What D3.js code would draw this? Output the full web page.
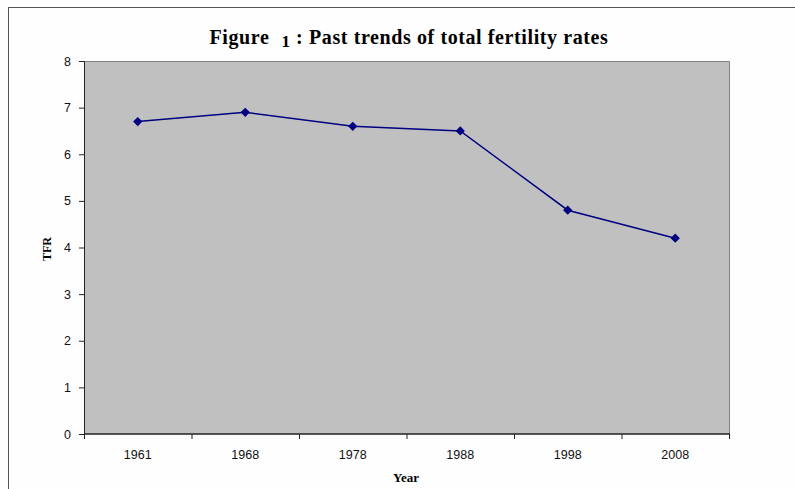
<!DOCTYPE html>
<html>
<head>
<meta charset="utf-8">
<script src="https://cdn.jsdelivr.net/npm/d3@7"></script>
<style>
  html, body { margin: 0; padding: 0; background: #fefefe; }
  svg { display: block; }
</style>
</head>
<body>
<svg id="chart" width="795" height="489"></svg>
<script>
// Total fertility rate by census / survey year
const years = ["1961", "1968", "1978", "1988", "1998", "2008"];
const tfr = [6.7, 6.9, 6.6, 6.5, 4.8, 4.2];
const yTicks = [0, 1, 2, 3, 4, 5, 6, 7, 8];

const svg = d3.select("#chart");
const plot = { left: 84, top: 61, right: 729, bottom: 434 };

// frame lines along top and left of the figure
svg.append("line").attr("x1", 8).attr("x2", 795).attr("y1", 7.5).attr("y2", 7.5)
  .attr("stroke", "#555").attr("stroke-width", 1);
svg.append("line").attr("x1", 8.5).attr("x2", 8.5).attr("y1", 7).attr("y2", 489)
  .attr("stroke", "#555").attr("stroke-width", 1);

const x = d3.scaleBand().domain(years).range([plot.left, plot.right]).padding(0);
const y = d3.scaleLinear().domain([0, 8]).range([plot.bottom, plot.top]);

// plot area
svg.append("rect")
  .attr("x", plot.left).attr("y", plot.top)
  .attr("width", plot.right - plot.left).attr("height", plot.bottom - plot.top)
  .attr("fill", "#c0c0c0");
svg.append("path")
  .attr("d", `M${plot.left},${plot.top + 0.5}H${plot.right + 0.5}V${plot.bottom}`)
  .attr("fill", "none").attr("stroke", "#808080").attr("stroke-width", 1);

// y axis
const yAxis = svg.append("g")
  .attr("transform", `translate(${plot.left},0)`)
  .call(d3.axisLeft(y).tickValues(yTicks).tickSize(5).tickPadding(8).tickFormat(d3.format("d")));
yAxis.select(".domain").attr("stroke", "#222");
yAxis.selectAll(".tick line").attr("stroke", "#222");
yAxis.selectAll("text").attr("font-family", "Arial, 'Liberation Sans', sans-serif")
  .attr("font-size", 12.5).attr("fill", "#111");

// x axis: ticks sit on category boundaries, labels at band centres
const xAxis = svg.append("g").attr("transform", `translate(0,${plot.bottom})`);
xAxis.append("line").attr("x1", plot.left).attr("x2", plot.right + 1)
  .attr("stroke", "#222").attr("stroke-width", 1.5);
const bounds = years.map(d => x(d)).concat([plot.right]);
xAxis.selectAll("line.tk").data(bounds).join("line").attr("class", "tk")
  .attr("x1", d => d + 0.5).attr("x2", d => d + 0.5).attr("y1", 0).attr("y2", 5)
  .attr("stroke", "#222");
xAxis.selectAll("text").data(years).join("text")
  .attr("x", d => x(d) + x.bandwidth() / 2).attr("y", 25)
  .attr("text-anchor", "middle")
  .attr("font-family", "Arial, 'Liberation Sans', sans-serif")
  .attr("font-size", 12.5).attr("fill", "#111")
  .text(d => d);

// series line and diamond markers
const line = d3.line()
  .x((d, i) => x(years[i]) + x.bandwidth() / 2)
  .y(d => y(d));
svg.append("path").datum(tfr)
  .attr("d", line).attr("fill", "none")
  .attr("stroke", "#000080").attr("stroke-width", 1.5);
svg.selectAll("path.mk").data(tfr).join("path").attr("class", "mk")
  .attr("d", d3.symbol(d3.symbolDiamond2, 55))
  .attr("transform", (d, i) => `translate(${x(years[i]) + x.bandwidth() / 2},${y(d)})`)
  .attr("fill", "#000080");

// title
const title = svg.append("text")
  .attr("x", 409).attr("y", 44).attr("text-anchor", "middle")
  .attr("font-family", "'Liberation Serif', 'Times New Roman', serif")
  .attr("font-weight", "bold").attr("font-size", 20).attr("letter-spacing", 0.6)
  .attr("fill", "#000");
title.append("tspan").text("Figure");
title.append("tspan").attr("dx", 12).attr("dy", 3).attr("font-size", 17).text("1");
title.append("tspan").attr("dy", -3).text(" : Past trends of total fertility rates");

// axis titles
svg.append("text")
  .attr("x", 406).attr("y", 482).attr("text-anchor", "middle")
  .attr("font-family", "'Liberation Serif', 'Times New Roman', serif")
  .attr("font-weight", "bold").attr("font-size", 13).attr("fill", "#000")
  .text("Year");
svg.append("text")
  .attr("transform", "translate(51,249) rotate(-90)")
  .attr("text-anchor", "middle")
  .attr("font-family", "'Liberation Serif', 'Times New Roman', serif")
  .attr("font-weight", "bold").attr("font-size", 12).attr("fill", "#000")
  .text("TFR");
</script>
</body>
</html>
